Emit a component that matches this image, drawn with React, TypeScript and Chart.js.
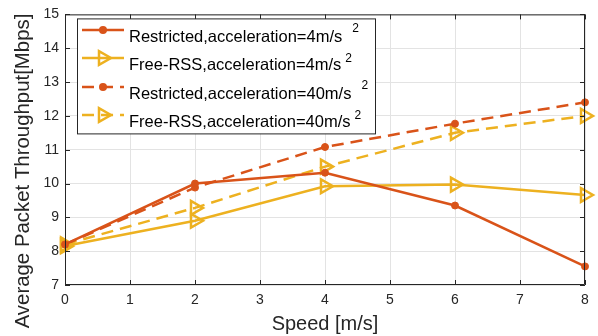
import React, { useEffect, useRef } from "react";
import { Chart, registerables } from "chart.js";

Chart.register(...registerables);

// ---- data ----
const speeds = [0, 2, 4, 6, 8];
const restricted4 = [8.2, 10.0, 10.32, 9.35, 7.55];
const freeRss4 = [8.15, 8.9, 9.92, 9.97, 9.66];
const restricted40 = [8.2, 9.88, 11.08, 11.77, 12.4];
const freeRss40 = [8.2, 9.28, 10.5, 11.5, 12.0];
const seriesLabels = [
  "Restricted,acceleration=4m/s",
  "Free-RSS,acceleration=4m/s",
  "Restricted,acceleration=40m/s",
  "Free-RSS,acceleration=40m/s",
];
const seriesSup = ["2", "2", "2", "2"];
const xTickValues = [0, 1, 2, 3, 4, 5, 6, 7, 8];
const yTickValues = [7, 8, 9, 10, 11, 12, 13, 14, 15];
const xTitle = "Speed [m/s]";
const yTitle = "Average Packet Throughput[Mbps]";

const ORANGE = "#D95319";
const YELLOW = "#EDB120";
const AXIS = "#262626";
const FONT = "'Liberation Sans', Arial, Helvetica, sans-serif";

type Style = { color: string; dashed: boolean; marker: "circle" | "tri" };
const styles: Style[] = [
  { color: ORANGE, dashed: false, marker: "circle" },
  { color: YELLOW, dashed: false, marker: "tri" },
  { color: ORANGE, dashed: true, marker: "circle" },
  { color: YELLOW, dashed: true, marker: "tri" },
];
const DASH = [12, 7];

function drawMarker(ctx: CanvasRenderingContext2D, s: Style, x: number, y: number) {
  ctx.save();
  ctx.setLineDash([]);
  if (s.marker === "circle") {
    ctx.beginPath();
    ctx.arc(x, y, 4, 0, Math.PI * 2);
    ctx.fillStyle = s.color;
    ctx.fill();
  } else {
    const r = 8;
    ctx.beginPath();
    ctx.moveTo(x + r, y);
    ctx.lineTo(x - r / 2, y - r * 0.866);
    ctx.lineTo(x - r / 2, y + r * 0.866);
    ctx.closePath();
    ctx.strokeStyle = s.color;
    ctx.lineWidth = 2.5;
    ctx.stroke();
  }
  ctx.restore();
}

const boxPlugin = {
  id: "boxPlugin",
  afterDatasetsDraw(chart: any) {
    const { ctx, chartArea } = chart;
    const { left, right, top, bottom } = chartArea;
    const xs = chart.scales.x;
    const ys = chart.scales.y;
    ctx.save();
    ctx.strokeStyle = AXIS;
    ctx.lineWidth = 1;
    ctx.setLineDash([]);
    ctx.beginPath();
    ctx.rect(left + 0.5, top + 0.5, right - left - 1, bottom - top - 1);
    ctx.stroke();
    const tl = 5;
    ctx.beginPath();
    xTickValues.forEach((v) => {
      const px = Math.round(xs.getPixelForValue(v)) + 0.5;
      ctx.moveTo(px, bottom);
      ctx.lineTo(px, bottom - tl);
      ctx.moveTo(px, top);
      ctx.lineTo(px, top + tl);
    });
    yTickValues.forEach((v) => {
      const py = Math.round(ys.getPixelForValue(v)) + 0.5;
      ctx.moveTo(left, py);
      ctx.lineTo(left + tl, py);
      ctx.moveTo(right, py);
      ctx.lineTo(right - tl, py);
    });
    ctx.stroke();
    ctx.restore();
  },
  afterDraw(chart: any) {
    const { ctx, chartArea } = chart;
    // y-axis title
    ctx.save();
    ctx.translate(23, 171);
    ctx.rotate(-Math.PI / 2);
    ctx.font = `20.4px ${FONT}`;
    ctx.fillStyle = AXIS;
    ctx.textAlign = "center";
    ctx.textBaseline = "middle";
    ctx.fillText(yTitle, 0, 0);
    ctx.restore();

    // legend
    const bx = chartArea.left + 12.5;
    const by = chartArea.top + 4.5;
    const bw = 298;
    const bh = 115;
    ctx.save();
    ctx.fillStyle = "#ffffff";
    ctx.fillRect(bx, by, bw, bh);
    ctx.strokeStyle = AXIS;
    ctx.lineWidth = 1;
    ctx.setLineDash([]);
    ctx.strokeRect(bx, by, bw, bh);
    const rowsY = [30, 58, 87, 115];
    const x0 = 82;
    const x1 = 124;
    const textX = 129;
    const supGap = [10, 4, 10, 4];
    const supDy = [2, 4, 2, 4];
    seriesLabels.forEach((label, i) => {
      const s = styles[i];
      const y = rowsY[i];
      ctx.save();
      ctx.strokeStyle = s.color;
      ctx.lineWidth = 2.5;
      ctx.setLineDash(s.dashed ? DASH : []);
      ctx.beginPath();
      ctx.moveTo(x0, y);
      ctx.lineTo(x1, y);
      ctx.stroke();
      ctx.restore();
      drawMarker(ctx, s, (x0 + x1) / 2, y);
      ctx.fillStyle = "#000000";
      ctx.textAlign = "left";
      ctx.textBaseline = "alphabetic";
      ctx.font = `16.5px ${FONT}`;
      ctx.fillText(label, textX, y + 12);
      const w = ctx.measureText(label).width;
      ctx.font = `12px ${FONT}`;
      ctx.fillText(seriesSup[i], textX + w + supGap[i], y + supDy[i]);
    });
    ctx.restore();
  },
};

export default function App() {
  const ref = useRef<HTMLCanvasElement | null>(null);
  useEffect(() => {
    if (!ref.current) return;
    const allSeries = [restricted4, freeRss4, restricted40, freeRss40];
    const datasets = allSeries.map((vals, i) => {
      const s = styles[i];
      return {
        label: seriesLabels[i],
        data: vals.map((v, j) => ({ x: speeds[j], y: v })),
        borderColor: s.color,
        backgroundColor: s.marker === "circle" ? s.color : "rgba(0,0,0,0)",
        borderWidth: 2.5,
        borderDash: s.dashed ? DASH : [],
        pointStyle: s.marker === "circle" ? "circle" : "triangle",
        pointRotation: s.marker === "circle" ? 0 : 90,
        pointRadius: s.marker === "circle" ? 3.5 : 8,
        pointBorderWidth: s.marker === "circle" ? 1 : 2.5,
        pointBorderColor: s.color,
        pointBackgroundColor: s.marker === "circle" ? s.color : "rgba(0,0,0,0)",
        tension: 0,
        fill: false,
        clip: false as any,
      };
    });
    const chart = new Chart(ref.current, {
      type: "line",
      data: { datasets },
      options: {
        responsive: false,
        animation: false,
        devicePixelRatio: 1,
        layout: { padding: { top: 10, right: 13, left: 0, bottom: 0 } },
        plugins: { legend: { display: false }, tooltip: { enabled: false } },
        scales: {
          x: {
            type: "linear",
            min: 0,
            max: 8,
            afterFit: (scale: any) => {
              scale.height = 51;
            },
            afterBuildTicks: (scale: any) => {
              scale.ticks = xTickValues.map((v) => ({ value: v }));
            },
            ticks: {
              font: { family: FONT, size: 14 },
              color: AXIS,
              padding: 7,
              maxRotation: 0,
              autoSkip: false,
            },
            grid: { color: "#e3e3e3", drawTicks: false, lineWidth: 1 },
            border: { display: false },
            title: {
              display: true,
              text: xTitle,
              font: { family: FONT, size: 20 },
              color: AXIS,
              padding: 0,
            },
          },
          y: {
            type: "linear",
            min: 7,
            max: 15,
            afterFit: (scale: any) => {
              scale.width = 65;
            },
            afterBuildTicks: (scale: any) => {
              scale.ticks = yTickValues.map((v) => ({ value: v }));
            },
            ticks: {
              font: { family: FONT, size: 14 },
              color: AXIS,
              padding: 6,
              autoSkip: false,
            },
            grid: { color: "#e3e3e3", drawTicks: false, lineWidth: 1 },
            border: { display: false },
            title: { display: false },
          },
        },
      },
      plugins: [boxPlugin],
    });
    return () => chart.destroy();
  }, []);
  return (
    <div style={{ position: "fixed", left: 0, top: 0, width: 598, height: 336, background: "#fff" }}>
      <canvas ref={ref} width={598} height={336} style={{ display: "block" }} />
    </div>
  );
}
